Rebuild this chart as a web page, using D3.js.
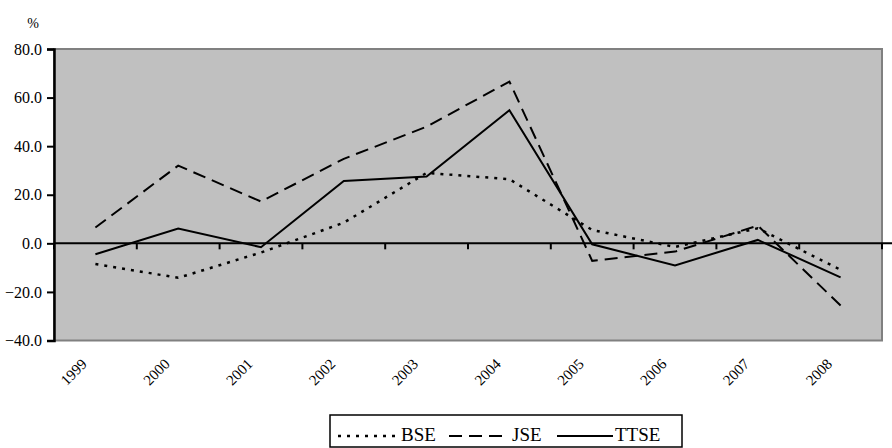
<!DOCTYPE html>
<html>
<head>
<meta charset="utf-8">
<script src="https://cdn.jsdelivr.net/npm/d3@7"></script>
<style>
  body { margin: 0; background: #fff; }
  text { font-family: "Liberation Serif", "Times New Roman", serif; fill: #000; }
</style>
</head>
<body>
<svg id="chart" width="892" height="448"></svg>
<script>
// data
const years = ['1999', '2000', '2001', '2002', '2003', '2004', '2005', '2006', '2007', '2008'];
const bse = [-8.5, -14.2, -3.8, 8.5, 29.0, 26.4, 5.5, -1.5, 6.2, -10.9];
const jse = [6.5, 32.0, 17.2, 34.8, 48.0, 66.6, -7.2, -3.4, 7.3, -25.6];
const ttse = [-4.5, 6.1, -1.6, 25.7, 27.5, 54.8, -0.4, -9.1, 1.4, -14.0];
const yTicks = [-40, -20, 0, 20, 40, 60, 80];

const series = [
  { name: 'BSE', values: bse, dash: '3,6', width: 2.5 },
  { name: 'JSE', values: jse, dash: '13,7', width: 2 },
  { name: 'TTSE', values: ttse, dash: null, width: 2 }
];

const svg = d3.select('#chart');
const plotL = 54, plotR = 882, plotT = 49, plotB = 340.5;

const x = d3.scaleBand().domain(years).range([plotL, plotR]);
const y = d3.scaleLinear().domain([-40, 80]).range([plotB, plotT]);

// plot background
svg.append('rect')
  .attr('x', plotL).attr('y', plotT)
  .attr('width', plotR - plotL).attr('height', plotB - plotT)
  .attr('fill', '#c0c0c0')
  .attr('stroke', '#808080')
  .attr('stroke-width', 2);

// y axis
const yAxis = svg.append('g')
  .attr('transform', 'translate(' + plotL + ',0)')
  .call(d3.axisLeft(y).tickValues(yTicks).tickSize(7).tickPadding(5)
    .tickFormat(d3.format('.1f')));
yAxis.attr('font-family', null);
yAxis.select('.domain').attr('stroke', '#000').attr('stroke-width', 2.5);
yAxis.selectAll('.tick line').attr('stroke', '#000').attr('stroke-width', 2);
yAxis.selectAll('.tick text')
  .style('font-size', '16px')
  .style('font-family', '"Liberation Serif", serif');

// zero line with category ticks at band boundaries
svg.append('line')
  .attr('x1', plotL).attr('x2', plotR + 10)
  .attr('y1', y(0)).attr('y2', y(0))
  .attr('stroke', '#000').attr('stroke-width', 2);

const bounds = years.map(d => x(d)).concat([plotR]);
svg.append('g').selectAll('line')
  .data(bounds)
  .join('line')
  .attr('x1', d => d).attr('x2', d => d)
  .attr('y1', y(0)).attr('y2', y(0) + 6)
  .attr('stroke', '#000').attr('stroke-width', 2);

// year labels, rotated
svg.append('g').selectAll('text')
  .data(years)
  .join('text')
  .attr('transform', d => 'translate(' + (x(d) + x.bandwidth() / 2 - 7.5) + ',' + 365 + ') rotate(-45)')
  .attr('text-anchor', 'end')
  .style('font-size', '15px')
  .text(d => d);

// "%" unit label
svg.append('text')
  .attr('x', 33).attr('y', 28)
  .attr('text-anchor', 'middle')
  .style('font-size', '14px')
  .text('%');

// the lines
const line = d3.line()
  .x((d, i) => x(years[i]) + x.bandwidth() / 2)
  .y(d => y(d));

svg.append('g').selectAll('path')
  .data(series)
  .join('path')
  .attr('d', d => line(d.values))
  .attr('fill', 'none')
  .attr('stroke', '#000')
  .attr('stroke-width', d => d.width)
  .attr('stroke-dasharray', d => d.dash);

// legend
const legend = svg.append('g');
legend.append('rect')
  .attr('x', 330).attr('y', 415)
  .attr('width', 352).attr('height', 32)
  .attr('fill', '#fff')
  .attr('stroke', '#000')
  .attr('stroke-width', 1.5);

const legendPos = [
  { x1: 338, x2: 398, tx: 401 },
  { x1: 449, x2: 506, tx: 512 },
  { x1: 557, x2: 613, tx: 615 }
];

series.forEach((s, i) => {
  const p = legendPos[i];
  legend.append('line')
    .attr('x1', p.x1).attr('x2', p.x2)
    .attr('y1', 436).attr('y2', 436)
    .attr('stroke', '#000')
    .attr('stroke-width', s.width)
    .attr('stroke-dasharray', s.dash);
  legend.append('text')
    .attr('x', p.tx).attr('y', 441)
    .style('font-size', '19px')
    .text(s.name);
});
</script>
</body>
</html>
